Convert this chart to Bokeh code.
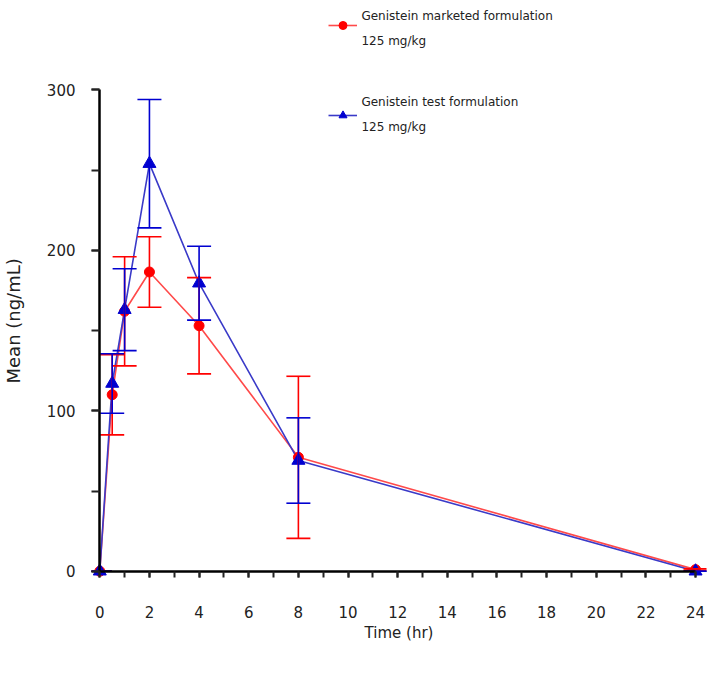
from bokeh.plotting import figure
from bokeh.models import (ColumnDataSource, Whisker, TeeHead, FixedTicker, Legend,
                          LegendItem, Label, Range1d, LinearAxis, Title)
from bokeh.embed import file_html
from bokeh.resources import INLINE

# ---- data ----
time_hr = [0, 0.5, 1, 2, 4, 8, 24]
marketed_mean = [0, 110, 162, 186.5, 153, 71, 1]
marketed_sd = [0, 25, 34, 22, 30, 50.5, 0.5]
test_mean = [0, 117, 163, 254, 179.5, 69, 0]
test_sd = [0, 18.5, 25.5, 40, 23, 26.6, 0]
x_major_ticks = list(range(0, 25, 2))
x_minor_ticks = list(range(0, 25, 1))
y_major_ticks = [0, 100, 200, 300]
y_minor_ticks = [0, 50, 100, 150, 200, 250, 300]
series_names = ["Genistein marketed formulation", "Genistein test formulation"]
dose_label = "125 mg/kg"
x_title = "Time (hr)"
y_title = "Mean (ng/mL)"

FONT = "DejaVu Sans"
TXT = "#222222"

p = figure(width=714, height=679,
           x_range=Range1d(-0.334, 24.44), y_range=Range1d(-3.9, 350.7),
           output_backend="svg", toolbar_location=None,
           min_border_left=91, min_border_right=8, min_border_top=8,
           min_border_bottom=102)
p.outline_line_color = None
p.xgrid.visible = False
p.ygrid.visible = False

def make_src(mean, sd):
    return ColumnDataSource(dict(
        t=time_hr, y=mean,
        upper=[m + s for m, s in zip(mean, sd)],
        lower=[m - s for m, s in zip(mean, sd)]))

src_m = make_src(marketed_mean, marketed_sd)
src_t = make_src(test_mean, test_sd)

RED_LINE = "#ff4a4a"
RED = "#ff0000"
BLUE_LINE = "#3a3ac8"
BLUE = "#0000d0"

l_m = p.line("t", "y", source=src_m, line_color=RED_LINE, line_width=1.6)
l_t = p.line("t", "y", source=src_t, line_color=BLUE_LINE, line_width=1.6)

for src, col in ((src_m, RED), (src_t, BLUE)):
    w = Whisker(source=src, base="t", upper="upper", lower="lower",
                line_color=col, line_width=1.6,
                upper_head=TeeHead(size=24, line_color=col, line_width=1.6),
                lower_head=TeeHead(size=24, line_color=col, line_width=1.6))
    w.level = "glyph"
    p.add_layout(w)

s_m = p.scatter("t", "y", source=src_m, marker="circle", size=10,
                fill_color=RED, line_color=RED)
s_t = p.scatter("t", "y", source=src_t, marker="triangle", size=13,
                fill_color=BLUE, line_color=BLUE)

# ---- label-only axes (default ones, at frame edges) ----
xa = p.xaxis[0]
ya = p.yaxis[0]
xa.ticker = FixedTicker(ticks=x_major_ticks, minor_ticks=[])
ya.ticker = FixedTicker(ticks=y_major_ticks, minor_ticks=[])
for ax in (xa, ya):
    ax.axis_line_color = None
    ax.major_tick_line_color = None
    ax.minor_tick_line_color = None
    ax.major_tick_out = 0
    ax.minor_tick_out = 0
    ax.major_tick_in = 0
    ax.minor_tick_in = 0
    ax.major_label_text_font = FONT
    ax.major_label_text_font_size = "15px"
    ax.major_label_text_color = TXT
xa.major_label_standoff = 28
ya.major_label_standoff = 16
xa.axis_label = x_title
xa.axis_label_text_font = FONT
xa.axis_label_text_font_size = "15px"
xa.axis_label_text_font_style = "normal"
xa.axis_label_text_color = TXT
xa.axis_label_standoff = 3
# blank spacer label that widens the left panel so the title sits near the edge
ya.axis_label = " "
ya.axis_label_text_font_size = "15px"
ya.axis_label_standoff = 0

# ---- axes through the origin: line and ticks only ----
def rule_axis(bounds, major, minor, tout, mout):
    return LinearAxis(fixed_location=0, bounds=bounds,
                      ticker=FixedTicker(ticks=major, minor_ticks=minor),
                      axis_line_color="black", axis_line_width=2.5,
                      major_tick_line_color=TXT, minor_tick_line_color=TXT,
                      major_tick_line_width=2, minor_tick_line_width=2,
                      major_tick_in=0, minor_tick_in=0,
                      major_tick_out=tout, minor_tick_out=mout,
                      major_label_standoff=0,
                      major_label_text_font_size="1px",
                      major_label_text_alpha=0)

p.add_layout(rule_axis((0, 24), x_major_ticks, x_minor_ticks, 25, 12), "below")
p.add_layout(rule_axis((0, 300), y_major_ticks, y_minor_ticks, 19, 9), "left")

# y title as a left-side title (outermost in the left panel)
p.add_layout(Title(text=y_title, align="left", offset=194, standoff=0,
                   text_font=FONT, text_font_size="18px",
                   text_font_style="normal", text_color=TXT), "left")

# ---- legend: glyph samples via Legend, two-line texts via Labels ----
legend = Legend(items=[LegendItem(label=" ", renderers=[l_m, s_m]),
                       LegendItem(label=" ", renderers=[l_t, s_t])],
                location=(237, 452), padding=0, margin=0, spacing=70,
                glyph_width=29, glyph_height=20, label_standoff=0,
                border_line_color=None, background_fill_alpha=0,
                label_text_font_size="12px")
p.add_layout(legend)

legend_text_x = 10.54
legend_rows = [(series_names[0], 346.3), (dose_label, 330.7),
               (series_names[1], 292.2), (dose_label, 276.6)]
for txt, yy in legend_rows:
    p.add_layout(Label(x=legend_text_x, y=yy, text=txt, text_align="left",
                       text_baseline="middle", text_font=FONT,
                       text_font_size="12px", text_color=TXT))

open("out.html", "w").write(file_html(p, INLINE))
